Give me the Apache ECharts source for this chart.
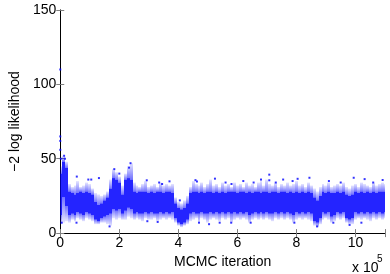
<!DOCTYPE html>
<html>
<head>
<meta charset="utf-8">
<script src="https://cdn.jsdelivr.net/npm/echarts@6/dist/echarts.min.js"></script>
<style>html,body{margin:0;padding:0;background:#fff}#c{width:390px;height:274px}</style>
</head>
<body>
<div id="c"></div>
<script>
// MCMC iteration (units of 10^5), one column every 10^4 iterations
const iterations = [0,0.1,0.2,0.3,0.4,0.5,0.6,0.7,0.8,0.9,1,1.1,1.2,1.3,1.4,1.5,1.6,1.7,1.8,1.9,2,2.1,2.2,2.3,2.4,2.5,2.6,2.7,2.8,2.9,3,3.1,3.2,3.3,3.4,3.5,3.6,3.7,3.8,3.9,4,4.1,4.2,4.3,4.4,4.5,4.6,4.7,4.8,4.9,5,5.1,5.2,5.3,5.4,5.5,5.6,5.7,5.8,5.9,6,6.1,6.2,6.3,6.4,6.5,6.6,6.7,6.8,6.9,7,7.1,7.2,7.3,7.4,7.5,7.6,7.7,7.8,7.9,8,8.1,8.2,8.3,8.4,8.5,8.6,8.7,8.8,8.9,9,9.1,9.2,9.3,9.4,9.5,9.6,9.7,9.8,9.9,10,10.1,10.2,10.3,10.4,10.5,10.6,10.7,10.8,10.9,11];
// sparse lower extent of samples per column (-2 log likelihood)
const sparseLow = [6,7,8,7,9,8,10,9,8,10,9,8,6,6,7,7,6,5,10,9,10,9,9,11,10,9,10,9,8,10,9,9,10,8,9,10,9,10,9,7,5,4,5,6,8,9,10,7,10,9,7,9,10,9,8,10,9,10,7,9,10,9,10,9,7,9,10,9,10,9,10,9,8,10,9,10,9,10,9,7,9,10,9,10,9,8,5,4,6,9,10,9,7,8,10,9,10,7,6,6,9,10,9,10,9,8,10,9,10,9,10];
// dense core lower bound
const coreLow = [12,24,18,12,13,12,14,13,12,14,13,12,9,8,10,11,12,13,16,15,16,13,15,17,16,13,14,13,13,14,13,14,13,13,14,13,14,13,14,10,7,6,7,9,13,14,13,13,14,13,13,14,13,14,13,14,13,14,13,14,13,14,13,14,12,13,14,13,14,13,14,13,13,14,13,14,13,14,13,12,14,13,14,13,14,13,8,7,10,14,13,14,11,12,14,13,14,10,9,10,14,13,14,13,14,13,14,13,14,13,14];
// dense core upper bound
const coreHigh = [40,48,44,28,27,26,27,28,27,28,27,26,21,19,20,22,24,30,37,36,34,26,36,37,36,28,27,28,28,28,27,28,27,28,28,27,28,28,27,20,17,16,17,20,27,28,28,27,28,27,28,28,27,28,27,28,27,28,28,28,27,28,28,27,28,27,28,28,27,28,28,27,28,28,27,28,28,27,28,27,28,27,28,27,28,27,24,22,25,28,27,28,27,27,28,27,28,26,25,26,28,27,28,27,28,27,28,27,28,28,28];
// sparse upper extent of samples per column
const sparseHigh = [45,52,48,33,31,32,35,31,32,34,33,30,27,26,25,26,28,36,43,41,38,32,40,45,47,34,32,31,33,35,31,32,33,31,34,32,33,32,33,24,21,20,22,25,31,35,33,32,34,31,33,36,32,33,31,34,32,33,31,34,32,33,31,34,32,33,31,34,35,32,36,33,32,34,31,33,32,34,32,33,35,32,33,31,34,32,30,28,31,33,32,34,31,32,33,32,34,31,30,32,33,31,34,33,32,31,34,32,33,34,33];
// isolated samples [iteration (10^5), -2 log likelihood]
const isolated = [[0,110],[0,65],[0,62],[0,56],[0.02,50],[0.13,52],[0.16,50],[0.56,38],[0.95,36],[1.05,36],[1.31,37],[1.67,4.5],[1.83,43],[2.0,40],[2.38,47],[2.33,44],[2.93,35.5],[3.35,34],[3.7,34.8],[3.45,33],[4.05,22],[4.58,35.6],[4.63,34.7],[5.24,36.6],[5.6,34],[5.8,33],[6.2,35],[6.55,34],[6.8,36],[7.08,39.3],[7.08,35.5],[7.3,34],[7.55,36],[7.87,35],[8.04,36.5],[8.44,37.2],[8.7,4.5],[9.1,35],[9.5,34],[9.94,37.2],[10.31,36.3],[10.6,34],[10.92,35.7],[0.05,7],[0.55,7],[2.95,8],[3.3,7.5],[4.7,7],[5.04,6],[5.4,7],[5.79,7],[6.45,7],[7.93,7],[9.25,7],[9.8,5.5],[10.2,7]];
const xTicks = [0,2,4,6,8,10];
const yTicks = [0,50,100,150];

const FONT = 'Liberation Sans';
const BLUE = '#0000ff';
const chart = echarts.init(document.getElementById('c'), null, {renderer:'canvas'});

const columns = iterations.map((x,i)=>[x, sparseLow[i], sparseHigh[i], coreLow[i], coreHigh[i]]);
const HALF = 0.05;

function fade(topAlpha, bottomAlpha){
  return new echarts.graphic.LinearGradient(0,0,0,1,[
    {offset:0, color:'rgba(0,0,255,'+topAlpha+')'},
    {offset:1, color:'rgba(0,0,255,'+bottomAlpha+')'}
  ]);
}

function renderColumn(params, api){
  const x = api.value(0);
  const lo = api.value(1), hi = api.value(2), cl = api.value(3), ch = api.value(4);
  const pHi = api.coord([x - HALF, hi]);
  const pLo = api.coord([x + HALF, lo]);
  const pCh = api.coord([x - HALF, ch]);
  const pCl = api.coord([x + HALF, cl]);
  const x0 = Math.round(pHi[0]), x1 = Math.round(pLo[0]);
  const cs = params.coordSys;
  const clip = (r)=> echarts.graphic.clipRectByRect(r, {x:cs.x, y:cs.y, width:cs.width, height:cs.height});
  const upper = clip({x:x0, y:pHi[1], width:x1-x0, height:pCh[1]-pHi[1]});
  const core = clip({x:x0, y:pCh[1], width:x1-x0, height:pCl[1]-pCh[1]});
  const lower = clip({x:x0, y:pCl[1], width:x1-x0, height:pLo[1]-pCl[1]});
  const children = [];
  if (upper) children.push({type:'rect', shape:upper, style:{fill:fade(0.1, 0.55)}});
  if (core) children.push({type:'rect', shape:core, style:{fill:BLUE, opacity:0.86}});
  if (lower) children.push({type:'rect', shape:lower, style:{fill:fade(0.55, 0.1)}});
  return {type:'group', children};
}

chart.setOption({
  animation:false,
  grid:{left:51, right:5, top:10, bottom:35},
  xAxis:[{
    type:'value', min:0, max:11, interval:2, position:'bottom',
    name:'MCMC iteration', nameLocation:'middle', nameGap:15,
    nameTextStyle:{fontFamily:FONT, fontSize:14, color:'#000'},
    axisLine:{lineStyle:{color:'#808080', width:1}},
    axisTick:{inside:true, length:4, lineStyle:{color:'#808080'}},
    axisLabel:{fontFamily:FONT, fontSize:14, color:'#000', margin:3,
      formatter:v=> xTicks.indexOf(v)>=0 ? String(v) : ''},
    splitLine:{show:false}
  },{
    type:'value', min:0, max:11, interval:2, position:'top',
    axisLine:{lineStyle:{color:'#000', width:1}},
    axisTick:{inside:true, length:4, lineStyle:{color:'#808080'}},
    axisLabel:{show:false}, splitLine:{show:false}
  }],
  yAxis:[{
    type:'value', min:0, max:150, interval:50, position:'left',
    name:'\u22122 log likelihood', nameLocation:'middle', nameGap:34,
    nameTextStyle:{fontFamily:FONT, fontSize:14, color:'#000'},
    axisLine:{lineStyle:{color:'#808080', width:1}},
    axisTick:{inside:true, length:4, lineStyle:{color:'#808080'}},
    axisLabel:{fontFamily:FONT, fontSize:14, color:'#000', margin:4,
      formatter:v=> yTicks.indexOf(v)>=0 ? String(v) : ''},
    splitLine:{show:false}
  },{
    type:'value', min:0, max:150, interval:50, position:'right',
    axisLine:{lineStyle:{color:'#000', width:1}},
    axisTick:{inside:true, length:4, lineStyle:{color:'#808080'}},
    axisLabel:{show:false}, splitLine:{show:false}
  }],
  series:[
    {type:'custom', data:columns, encode:{x:0, y:[1,2,3,4]}, renderItem:renderColumn, silent:true, clip:true},
    {type:'scatter', data:isolated, symbol:'rect', symbolSize:2, itemStyle:{color:BLUE}, silent:true}
  ],
  graphic:[
    {type:'text', left:352, top:261, style:{text:'x 10', font:'14px "Liberation Sans"', fill:'#000'}},
    {type:'text', left:377, top:254, style:{text:'5', font:'10px "Liberation Sans"', fill:'#000'}}
  ]
});
</script>
</body>
</html>
